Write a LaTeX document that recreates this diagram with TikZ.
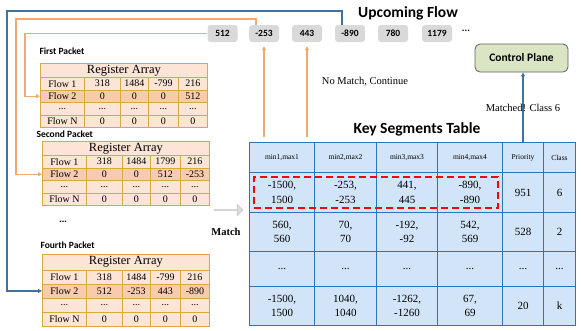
\documentclass[tikz,border=0pt]{standalone}
\usepackage{fontspec}
\setmainfont{Liberation Serif}
\newfontfamily\carlito{Carlito}
\usepackage{tikz}
\usetikzlibrary{arrows.meta, positioning, fit, calc, shapes.arrows}
\definecolor{RegFill}{RGB}{252,228,214}
\definecolor{RegHigh}{RGB}{248,203,173}
\definecolor{RegLine}{RGB}{214,170,60}
\definecolor{TabFill}{RGB}{210,228,248}
\definecolor{TabLine}{RGB}{46,117,182}
\definecolor{FlowOrange}{RGB}{244,167,110}
\definecolor{FlowBlue}{RGB}{65,113,156}
\definecolor{CtrlFill}{RGB}{218,230,195}
\newcommand{\threedots}{...}

\tikzset{
  regcell/.style={draw=RegLine, fill=RegFill, line width=0.9pt, inner sep=0pt,
                  font=\fontsize{10}{10}\selectfont, anchor=north west},
  reghigh/.style={regcell, fill=RegHigh},
  regtitle/.style={regcell, font=\fontsize{12.5}{13}\selectfont},
  segcell/.style={draw=TabLine, fill=TabFill, line width=1pt, inner sep=0pt, align=center,
                  font=\fontsize{11}{14.5}\selectfont, anchor=north west},
  seghead/.style={segcell, font=\fontsize{7.5}{8}\selectfont},
  flowbox/.style={fill=gray!30, rounded corners=3pt, minimum width=30pt, minimum height=17pt,
                  inner sep=0pt, font=\carlito\bfseries\fontsize{9.5}{10}\selectfont},
  pktlabel/.style={font=\carlito\bfseries\fontsize{9.5}{10}\selectfont, anchor=west},
  bigtitle/.style={font=\carlito\bfseries\fontsize{15.5}{17}\selectfont},
  note/.style={font=\fontsize{10.5}{12}\selectfont},
  orangeline/.style={draw=FlowOrange, line width=1.3pt, -{Triangle[length=4pt,width=4pt]}},
  blueline/.style={draw=FlowBlue, line width=1.3pt, -{Triangle[length=4pt,width=4pt]}},
}

% one row of a register array: name, x, y, height, style, cells
\newcommand{\regrow}[6]{%
  \foreach \v [count=\c from 0] in {#6}{
    \pgfmathsetmacro{\xo}{{0,44,80,108,138}[\c]}
    \pgfmathsetmacro{\cw}{{44,36,28,30,29}[\c]}
    \node[#5, minimum width=\cw pt, minimum height=#4 pt] (#1-\c) at (#2+\xo,#3) {\v};
  }}
% a whole register array: name, x, y, row height, flow 1 cells, flow 2 cells
\newcommand{\regarray}[6]{%
  \node[regtitle, minimum width=167pt, minimum height=#4 pt+1.5pt] (#1-t) at (#2,#3) {Register Array};
  \regrow{#1-1}{#2}{#3+#4+1.5}{#4}{regcell}{#5}
  \regrow{#1-2}{#2}{#3+2*#4+1.5}{#4}{reghigh}{#6}
  \regrow{#1-3}{#2}{#3+3*#4+1.5}{#4}{regcell}{\threedots,\threedots,\threedots,\threedots,\threedots}
  \regrow{#1-4}{#2}{#3+4*#4+1.5}{#4}{regcell}{Flow N,0,0,0,0}
}
% one row of the key segments table: name, y, height, style, cells
\newcommand{\segrow}[5]{%
  \foreach \v [count=\c from 0] in {#5}{
    \pgfmathsetmacro{\xo}{{249,314,376,437,502,543}[\c]}
    \pgfmathsetmacro{\cw}{{65,62,61,65,41,32}[\c]}
    \node[#4, minimum width=\cw pt, minimum height=#3 pt] (#1-\c) at (\xo,#2) {\v};
  }}

\begin{document}
\begin{tikzpicture}[x=1pt, y=-1pt]
  \useasboundingbox (0,0) rectangle (581,330);

  % upcoming flow
  \node[bigtitle] (upcoming) at (408,13) {Upcoming Flow};
  \node[flowbox] (f512) at (222.5,33.5) {512};
  \node[flowbox] (f253) at (264,33.5) {-253};
  \node[flowbox] (f443) at (307,33.5) {443};
  \node[flowbox] (f890) at (350,33.5) {-890};
  \node[flowbox] (f780) at (393,33.5) {780};
  \node[flowbox] (f1179) at (437,33.5) {1179};
  \node[font=\carlito\bfseries\fontsize{10}{10}\selectfont] (fdots) at (466,31) {...};

  % register arrays
  \node[pktlabel] (first) at (36,51) {First Packet};
  \regarray{A}{40}{63}{12.5}{Flow 1,318,1484,-799,216}{Flow 2,0,0,0,512}
  \node[pktlabel] (second) at (33,134) {Second Packet};
  \regarray{B}{42}{141}{12.5}{Flow 1,318,1484,1799,216}{Flow 2,0,0,512,-253}
  \node[font=\bfseries\fontsize{10}{10}\selectfont] (pdots) at (63,222) {...};
  \node[pktlabel] (fourth) at (37,245) {Fourth Packet};
  \regarray{D}{42}{254}{14}{Flow 1,318,1484,-799,216}{Flow 2,512,-253,443,-890}

  % key segments table
  \node[bigtitle] (keytitle) at (417,129) {Key Segments Table};
  \segrow{S0}{142}{30}{seghead}{{min1,max1},{min2,max2},{min3,max3},{min4,max4},Priority,Class}
  \segrow{S1}{172}{40}{segcell}{{-1500,\\1500},{-253,\\-253},{441,\\445},{-890,\\-890},951,6}
  \segrow{S2}{212}{39}{segcell}{{560,\\560},{70,\\70},{-192,\\-92},{542,\\569},528,2}
  \segrow{S3}{251}{35}{segcell}{\threedots,\threedots,\threedots,\threedots,\threedots,\threedots}
  \segrow{S4}{286}{39}{segcell}{{-1500,\\1500},{1040,\\1040},{-1262,\\-1260},{67,\\69},20,k}
  \node[draw=red, dash pattern=on 7pt off 4pt, line width=1.3pt,
        fit=(S1-0)(S1-3), inner sep=-5pt] (hit) {};

  % match arrow
  \node[single arrow, fill=gray!30, draw=gray!45, minimum height=29pt, minimum width=12pt,
        single arrow head extend=3pt, inner sep=0pt] (matcharrow) at (228.5,210) {};
  \node[font=\bfseries\fontsize{10.5}{11}\selectfont] (matchlabel) at (226,232) {Match};

  % control plane
  \node[draw=gray!75!black, fill=CtrlFill, rounded corners=5pt, line width=0.8pt,
        minimum width=93pt, minimum height=28pt,
        font=\carlito\bfseries\fontsize{11.5}{12}\selectfont] (cp) at (521.5,58) {Control Plane};

  % feedback of packets into the register arrays
  \coordinate (bendA) at (25,33.5);
  \coordinate (bendB) at (16,19);
  \coordinate (bendD) at (7,11);
  \draw[orangeline] (f512.west) -- (bendA) |- (A-2-0.west);
  \draw[orangeline] ([xshift=-8pt]f253.north) |- (bendB) |- (B-2-0.west);
  \draw[blueline] ([xshift=-8pt]f890.north) |- (bendD) |- (D-2-0.west);

  % results of matching
  \draw[orangeline, shorten >=4pt] ([yshift=5pt]S0-0.north -| f253) -- (f253.south);
  \draw[orangeline, shorten >=4pt] ([yshift=5pt]S0-0.north -| f443) -- (f443.south);
  \node[note] (nomatch) at (365,82) {No Match, Continue};
  \draw[blueline] (S0-4.north) -- (S0-4.north |- cp.south)
    node[note, midway, yshift=-1pt] (matched) {Matched! Class 6};
\end{tikzpicture}
\end{document}
